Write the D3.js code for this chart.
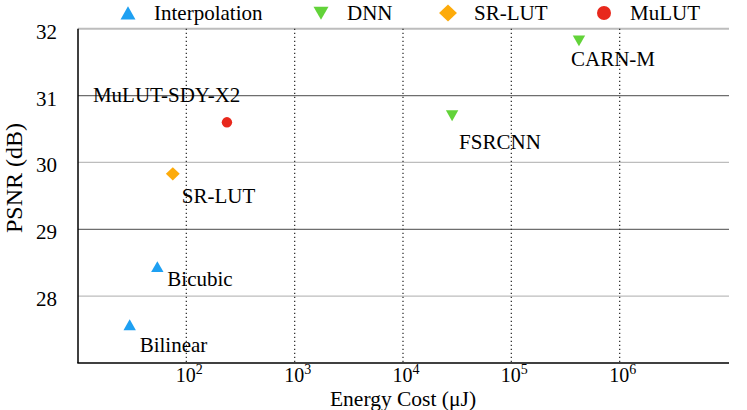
<!DOCTYPE html>
<html><head><meta charset="utf-8">
<script src="https://cdn.jsdelivr.net/npm/d3@7"></script>
<style>body{margin:0;background:#fff}svg{display:block}text{font-family:"Liberation Serif","Times New Roman",serif;fill:#000}</style>
</head><body><svg id="c" width="747" height="410"></svg>
<script>
const methods = ["Bilinear","Bicubic","SR-LUT","MuLUT-SDY-X2","FSRCNN","CARN-M"];
const groups  = ["Interpolation","Interpolation","SR-LUT","MuLUT","DNN","DNN"];
const energy  = [30, 54, 75, 237, 28400, 421000];
const psnr    = [27.57, 28.44, 29.83, 30.60, 30.70, 31.82];
const legendNames = ["Interpolation","DNN","SR-LUT","MuLUT"];
const legendColors = ["#1ea0f2","#62d339","#fdab0a","#e8281c"];
const legendShapes = ["up","down","diamond","circle"];
const xTicks = [1e2,1e3,1e4,1e5,1e6];
const xTickExp = ["2","3","4","5","6"];
const yTicks = [28,29,30,31,32];
// label offsets relative to marker (dx, dy)
const labelDx = [10, 10, 9, -134, 7, -8];
const labelDy = [27, 19, 29, -20, 33, 25];

const svg = d3.select("#c");
const x = d3.scaleLog().domain([10,1e7]).range([78,728]);
const y = d3.scaleLinear().domain([27,32]).range([363,28.7]);

function shapePath(s, r){
  if(s==="up") return `M0,${-r*0.9}L${r},${r*0.85}L${-r},${r*0.85}Z`;
  if(s==="down") return `M0,${r*0.9}L${r},${-r*0.85}L${-r},${-r*0.85}Z`;
  if(s==="diamond") return `M0,${-r}L${r*1.05},0L0,${r}L${-r*1.05},0Z`;
  return d3.arc()({innerRadius:0,outerRadius:r,startAngle:0,endAngle:2*Math.PI});
}

// horizontal grid
svg.append("g").selectAll("line").data(yTicks).join("line")
  .attr("x1",78).attr("x2",729).attr("y1",d=>y(d)).attr("y2",d=>y(d))
  .attr("stroke",d=>(d===31||d===29)?"#6e6e6e":"#bdbdbd").attr("stroke-width",d=>d===32?2:1.2);
// vertical dotted grid
svg.append("g").selectAll("line").data(xTicks).join("line")
  .attr("x1",d=>x(d)).attr("x2",d=>x(d)).attr("y1",y(32)).attr("y2",363)
  .attr("stroke","#333").attr("stroke-width",1.3).attr("stroke-dasharray","1.3,2.7");
// axes lines
svg.append("line").attr("x1",78).attr("x2",78).attr("y1",y(32)).attr("y2",363).attr("stroke","#000").attr("stroke-width",1.5);
svg.append("line").attr("x1",77.3).attr("x2",729).attr("y1",363).attr("y2",363).attr("stroke","#000").attr("stroke-width",1.5);

// y tick labels
svg.append("g").selectAll("text").data(yTicks).join("text")
  .attr("x",57).attr("y",d=>y(d)+10).attr("text-anchor","end").attr("font-size",21).text(d=>d);
// x tick labels
const xl = svg.append("g").selectAll("text").data(xTicks).join("text")
  .attr("x",(d)=>x(d)+3).attr("y",382).attr("text-anchor","middle").attr("font-size",20);
xl.append("tspan").text("10");
xl.append("tspan").attr("dy",-8).attr("font-size",14).text((d,i)=>xTickExp[i]);

// axis titles
svg.append("text").attr("x",403).attr("y",406).attr("text-anchor","middle").attr("font-size",21.5).text("Energy Cost (μJ)");
svg.append("text").attr("transform","translate(22,178) rotate(-90)").attr("text-anchor","middle").attr("font-size",24).text("PSNR (dB)");

// points
const gi = n => legendNames.indexOf(n);
svg.append("g").selectAll("path").data(methods).join("path")
  .attr("transform",(d,i)=>`translate(${x(energy[i])},${y(psnr[i])})`)
  .attr("d",(d,i)=>{const s=legendShapes[gi(groups[i])];return shapePath(s, s==="circle"?5.2:(s==="diamond"?6.6:6.2));})
  .attr("fill",(d,i)=>legendColors[gi(groups[i])]);
svg.append("g").selectAll("text").data(methods).join("text")
  .attr("x",(d,i)=>x(energy[i])+labelDx[i]).attr("y",(d,i)=>y(psnr[i])+labelDy[i])
  .attr("font-size",21).text(d=>d);

// legend
const legX = [128, 321, 448, 604];
const lg = svg.append("g").selectAll("g").data(legendNames).join("g")
  .attr("transform",(d,i)=>`translate(${legX[i]},13)`);
lg.append("path").attr("d",(d,i)=>shapePath(legendShapes[i], legendShapes[i]==="circle"?7:(legendShapes[i]==="diamond"?8.5:7.5)))
  .attr("fill",(d,i)=>legendColors[i]);
lg.append("text").attr("x",26).attr("y",7).attr("font-size",21).text(d=>d);
</script></body></html>
